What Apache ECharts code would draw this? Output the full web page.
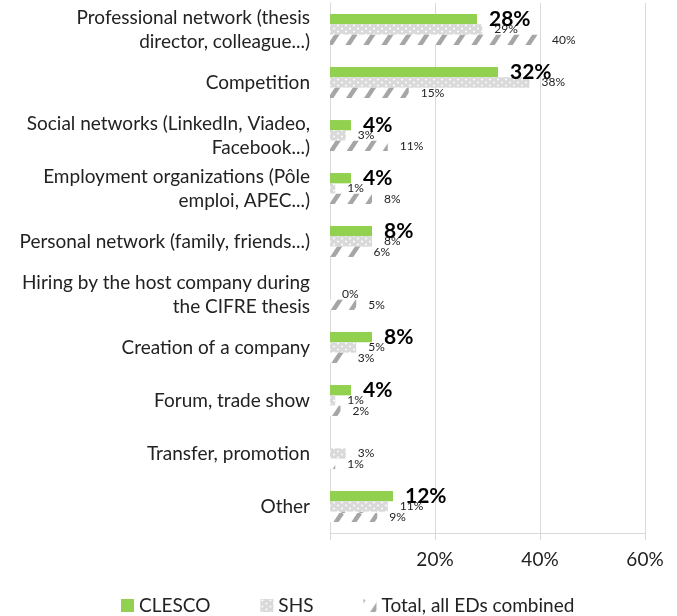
<!DOCTYPE html>
<html>
<head>
<meta charset="utf-8">
<script src="https://cdn.jsdelivr.net/npm/echarts@6/dist/echarts.min.js"></script>
<style>
html,body{margin:0;padding:0;background:#fff;}
#chart{width:677px;height:616px;}
</style>
</head>
<body>
<div id="chart"></div>
<script>
const categories = [
  "Professional network (thesis\ndirector, colleague...)",
  "Competition",
  "Social networks (LinkedIn, Viadeo,\nFacebook...)",
  "Employment organizations (Pôle\nemploi, APEC...)",
  "Personal network (family, friends...)",
  "Hiring by the host company during\nthe CIFRE thesis",
  "Creation of a company",
  "Forum, trade show",
  "Transfer, promotion",
  "Other"
];
const seriesNames = ["CLESCO", "SHS", "Total, all EDs combined"];
const clesco = [28, 32, 4, 4, 8, null, 8, 4, null, 12];
const shs    = [29, 38, 3, 1, 8, 0, 5, 1, 3, 11];
const total  = [40, 15, 11, 8, 6, 5, 3, 2, 1, 9];
const xTicks = [0, 20, 40, 60];

const FONT = 'Lato';

function dotPattern() {
  const c = document.createElement('canvas');
  c.width = 8; c.height = 6;
  const g = c.getContext('2d');
  g.fillStyle = '#d9d9d9';
  g.fillRect(0, 0, 8, 6);
  g.fillStyle = '#ffffff';
  g.beginPath(); g.arc(2, 1.5, 1, 0, Math.PI * 2); g.fill();
  g.beginPath(); g.arc(6, 4.5, 1, 0, Math.PI * 2); g.fill();
  return c;
}
function hatchPattern() {
  const W = 18, H = 27;
  const c = document.createElement('canvas');
  c.width = W; c.height = H;
  const g = c.getContext('2d');
  g.fillStyle = '#ffffff';
  g.fillRect(0, 0, W, H);
  g.strokeStyle = '#a6a6a6';
  g.lineWidth = 4.5;
  for (let k = -2; k <= 2; k++) {
    g.beginPath();
    g.moveTo(k * W, H);
    g.lineTo(k * W + W, 0);
    g.stroke();
  }
  return c;
}

const chart = echarts.init(document.getElementById('chart'), null, {renderer: 'canvas'});
const smallLabel = {
  show: true, position: 'right', distance: 12,
  fontFamily: FONT, fontSize: 12, color: '#222',
  formatter: p => (p.value === null || p.value === undefined) ? '' : p.value + '%'
};
const BW = 10.3;
chart.setOption({
  animation: false,
  textStyle: {fontFamily: FONT},
  grid: {left: 330, right: 32, top: 3, height: 530, containLabel: false},
  legend: {
    left: 116, top: 591,
    itemWidth: 13, itemHeight: 13, itemGap: 50,
    icon: 'rect',
    textStyle: {fontFamily: FONT, fontSize: 19, color: '#222'},
    data: seriesNames
  },
  xAxis: {
    type: 'value', min: xTicks[0], max: xTicks[xTicks.length - 1], interval: 20,
    axisLine: {show: true, lineStyle: {color: '#d9d9d9', width: 1}},
    axisTick: {show: true, length: 7, lineStyle: {color: '#d9d9d9'}},
    splitLine: {show: true, lineStyle: {color: '#d9d9d9', width: 1}},
    axisLabel: {
      margin: 17, fontFamily: FONT, fontSize: 19, color: '#222',
      formatter: v => v === 0 ? '' : v + '%'
    }
  },
  yAxis: {
    type: 'category', inverse: true, data: categories,
    axisLine: {show: true, lineStyle: {color: '#d9d9d9'}},
    axisTick: {show: false},
    axisLabel: {margin: 20, fontFamily: FONT, fontSize: 19, color: '#222', lineHeight: 24, align: 'right'}
  },
  series: [
    {
      name: seriesNames[0], type: 'bar', data: clesco, barWidth: BW, barGap: '0%',
      itemStyle: {color: '#92d050'},
      label: {
        show: true, position: 'right', distance: 12,
        fontFamily: FONT, fontSize: 21, fontWeight: 'bold', color: '#000',
        formatter: p => (p.value === null || p.value === undefined) ? '' : p.value + '%'
      }
    },
    {
      name: seriesNames[1], type: 'bar', data: shs, barWidth: BW, barGap: '0%',
      itemStyle: {color: {image: dotPattern(), repeat: 'repeat'}},
      label: smallLabel
    },
    {
      name: seriesNames[2], type: 'bar', data: total, barWidth: BW, barGap: '0%',
      itemStyle: {color: {image: hatchPattern(), repeat: 'repeat'}},
      label: smallLabel
    }
  ]
});
</script>
</body>
</html>
